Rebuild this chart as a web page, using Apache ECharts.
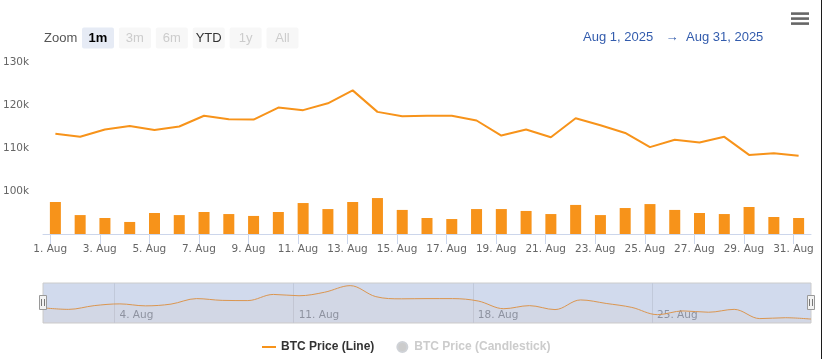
<!DOCTYPE html>
<html><head><meta charset="utf-8">
<script src="https://cdn.jsdelivr.net/npm/echarts@6/dist/echarts.min.js"></script>
<style>
html,body{margin:0;padding:0;background:#fff;overflow:hidden}
#c{position:absolute;left:0;top:0;width:822px;height:359px}
#edge{position:absolute;left:821px;top:0;width:1px;height:359px;background:#1c1c1c}
</style>
</head><body><div id="c"></div><div id="edge"></div>
<script>
// ---- data ----
const dates = [
 '2025-08-01T05:00:00Z','2025-08-02T05:00:00Z','2025-08-03T05:00:00Z','2025-08-04T05:00:00Z',
 '2025-08-05T05:00:00Z','2025-08-06T05:00:00Z','2025-08-07T05:00:00Z','2025-08-08T05:00:00Z',
 '2025-08-09T05:00:00Z','2025-08-10T05:00:00Z','2025-08-11T05:00:00Z','2025-08-12T05:00:00Z',
 '2025-08-13T05:00:00Z','2025-08-14T05:00:00Z','2025-08-15T05:00:00Z','2025-08-16T05:00:00Z',
 '2025-08-17T05:00:00Z','2025-08-18T05:00:00Z','2025-08-19T05:00:00Z','2025-08-20T05:00:00Z',
 '2025-08-21T05:00:00Z','2025-08-22T05:00:00Z','2025-08-23T05:00:00Z','2025-08-24T05:00:00Z',
 '2025-08-25T05:00:00Z','2025-08-26T05:00:00Z','2025-08-27T05:00:00Z','2025-08-28T05:00:00Z',
 '2025-08-29T05:00:00Z','2025-08-30T05:00:00Z','2025-08-31T05:00:00Z'];
const prices = [113300,112600,114300,115100,114200,115000,117500,116700,116600,119400,
 118800,120400,123400,118400,117400,117500,117500,116400,112900,114300,
 112500,116900,115300,113500,110200,111900,111300,112600,108400,108800,108200];
const volumes = [18.6,11.0,9.3,7.0,12.2,11.0,12.8,11.6,10.5,12.8,
 18.0,14.5,18.6,20.9,14.0,9.3,8.7,14.5,14.5,13.4,
 11.6,16.9,11.0,15.1,17.4,14.0,12.2,11.6,15.7,9.9,9.3];
const xTickDates = ['2025-08-01','2025-08-03','2025-08-05','2025-08-07','2025-08-09','2025-08-11',
 '2025-08-13','2025-08-15','2025-08-17','2025-08-19','2025-08-21','2025-08-23','2025-08-25',
 '2025-08-27','2025-08-29','2025-08-31'];
const navTickDates = ['2025-08-04','2025-08-11','2025-08-18','2025-08-25'];
const yTicks = [90000,100000,110000,120000,130000];
const seriesNames = ['BTC Price (Line)','BTC Price (Candlestick)'];
const zoomButtons = ['1m','3m','6m','YTD','1y','All'];
const rangeFrom = 'Aug 1, 2025', rangeTo = 'Aug 31, 2025';

// ---- build ----
const FONT = 'Liberation Sans';
const AXFONT = 'DejaVu Sans';
const DAY = 86400000;
const times = dates.map(d => Date.parse(d));
const tickVals = xTickDates.map(d => Date.parse(d + 'T00:00:00Z'));
const navVals = navTickDates.map(d => Date.parse(d + 'T00:00:00Z'));
const fmtDay = v => new Date(v).getUTCDate() + '. Aug';
const orange = '#f7931a';

const chart = echarts.init(document.getElementById('c'), null, {renderer: 'canvas'});
chart.setOption({
  animation: false,
  textStyle: {fontFamily: FONT},
  grid: [
    {left: 43, right: 11, top: 62, height: 172},
    {left: 43, right: 11, top: 283, height: 40, show: true, backgroundColor: '#d1daed', borderColor: '#cccccc', borderWidth: 1}
  ],
  xAxis: [
    {type: 'value', gridIndex: 0, min: times[0] - DAY / 2, max: times[times.length - 1] + DAY / 2,
     axisLine: {lineStyle: {color: '#ccd6eb'}},
     axisTick: {length: 10, lineStyle: {color: '#ccd6eb'}, customValues: tickVals},
     axisLabel: {customValues: tickVals, formatter: fmtDay, color: '#666666', fontSize: 10.5, margin: 10, fontFamily: AXFONT},
     splitLine: {show: false}},
    {type: 'value', gridIndex: 1, min: times[0], max: times[times.length - 1],
     axisLine: {show: false},
     axisTick: {show: false, customValues: navVals},
     axisLabel: {customValues: navVals, formatter: fmtDay, inside: true, align: 'left', padding: [0, 0, 0, 5],
       color: '#8a93a5', fontSize: 10.5, margin: 2, fontFamily: AXFONT},
     splitLine: {show: true, lineStyle: {color: '#c1c9da', width: 1}}}
  ],
  yAxis: [
    {type: 'value', gridIndex: 0, min: yTicks[0], max: yTicks[yTicks.length - 1], interval: 10000,
     axisLine: {show: false}, axisTick: {show: false}, splitLine: {show: false},
     axisLabel: {showMinLabel: false, align: 'left', margin: 40, color: '#666666', fontSize: 10.5,
       formatter: v => (v / 1000) + 'k', fontFamily: AXFONT}},
    {type: 'value', gridIndex: 0, min: 0, max: 100, show: false, splitLine: {show: false}},
    {type: 'value', gridIndex: 1, min: 106400, max: 124600, show: false, splitLine: {show: false}}
  ],
  legend: {
    data: [{name: seriesNames[0], icon: 'path://M0,0H14V2H0Z'}, {name: seriesNames[1], icon: 'circle'}],
    selected: {[seriesNames[1]]: false},
    left: 257, top: 336, itemWidth: 14, itemHeight: 10, itemGap: 22,
    inactiveColor: '#cccccc',
    textStyle: {fontFamily: FONT, fontSize: 12, fontWeight: 'bold', color: '#333333'}
  },
  series: [
    {name: 'Volume', type: 'bar', xAxisIndex: 0, yAxisIndex: 1, barWidth: 11,
     itemStyle: {color: orange}, data: times.map((t, i) => [t, volumes[i]]), z: 2},
    {name: seriesNames[0], type: 'line', xAxisIndex: 0, yAxisIndex: 0, symbol: 'none', color: orange,
     lineStyle: {width: 2, color: orange}, data: times.map((t, i) => [t, prices[i]]), z: 3},
    {name: seriesNames[1], type: 'candlestick', xAxisIndex: 0, yAxisIndex: 0, data: [],
     itemStyle: {color: orange, color0: orange, borderColor: orange, borderColor0: orange}},
    {name: 'Navigator', type: 'line', xAxisIndex: 1, yAxisIndex: 2, symbol: 'none', smooth: 0.35,
     lineStyle: {width: 1, color: '#db9650'}, areaStyle: {color: 'rgba(247,147,26,0.05)'},
     data: times.map((t, i) => [t, prices[i]]), z: 2}
  ]
});

// ---- decorations (range selector, menu, navigator handles) ----
const g = [];
g.push({type: 'text', x: 44, y: 38, style: {text: 'Zoom', verticalAlign: 'middle', font: '13px ' + FONT, fill: '#555555'}});
zoomButtons.forEach((b, i) => {
  const x = 82 + i * 36.9;
  const sel = b === '1m', enabled = (b === '1m' || b === 'YTD');
  g.push({type: 'rect', shape: {x: x, y: 27.5, width: 32, height: 21, r: 2},
    style: {fill: sel ? '#e6ebf5' : '#f7f7f7'}});
  g.push({type: 'text', x: x + 16, y: 38, style: {text: b, align: 'center', verticalAlign: 'middle',
    font: (sel ? 'bold ' : '') + '13px ' + FONT, fill: sel ? '#000000' : (enabled ? '#333333' : '#cccccc')}});
});
g.push({type: 'text', x: 583, y: 37.5, style: {text: rangeFrom, verticalAlign: 'middle', font: '13px ' + FONT, fill: '#335cad'}});
g.push({type: 'text', x: 672, y: 37.5, style: {text: '\u2192', align: 'center', verticalAlign: 'middle', font: '13px ' + FONT, fill: '#335cad'}});
g.push({type: 'text', x: 686, y: 37.5, style: {text: rangeTo, verticalAlign: 'middle', font: '13px ' + FONT, fill: '#335cad'}});
[12.3, 17.3, 22.3].forEach(y => g.push({type: 'rect', shape: {x: 791, y: y, width: 18, height: 2.6}, style: {fill: '#666666'}}));
const hl = chart.convertToPixel({xAxisIndex: 1}, times[0]);
const hr = chart.convertToPixel({xAxisIndex: 1}, times[times.length - 1]);
const hy = 283 + 20;
[hl, hr].forEach(hx => {
  g.push({type: 'rect', z: 100, shape: {x: Math.round(hx) - 3.5, y: hy - 7.5, width: 7, height: 14},
    style: {fill: '#f2f2f2', stroke: '#999999', lineWidth: 1}});
  g.push({type: 'line', z: 101, shape: {x1: Math.round(hx) - 1.5, y1: hy - 4, x2: Math.round(hx) - 1.5, y2: hy + 3}, style: {stroke: '#777777', lineWidth: 1}});
  g.push({type: 'line', z: 101, shape: {x1: Math.round(hx) + 1.5, y1: hy - 4, x2: Math.round(hx) + 1.5, y2: hy + 3}, style: {stroke: '#777777', lineWidth: 1}});
});
chart.setOption({graphic: {elements: g}});
</script>
</body></html>
